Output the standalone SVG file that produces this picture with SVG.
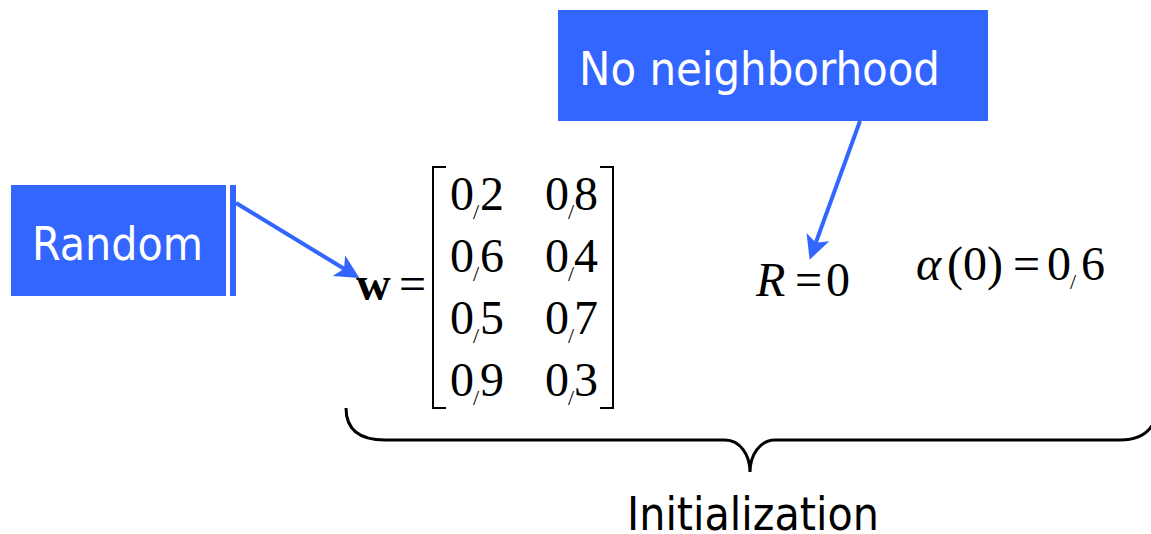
<svg xmlns="http://www.w3.org/2000/svg" width="1151" height="534" viewBox="0 0 1151 534">
<defs>
<style>
.box{fill:#3366ff}
.lbl{font-family:"DejaVu Sans",Verdana,sans-serif;font-size:47px;fill:#fff}
.m{font-family:"Liberation Serif","Times New Roman",serif;font-size:48px;fill:#000}
.sl{font-family:"Liberation Serif","Times New Roman",serif;font-size:22px;fill:#000}
.conn{stroke:#3366ff;stroke-width:4;fill:none}
.br{stroke:#000;stroke-width:2;fill:none}
</style>
<marker id="ah" markerWidth="6" markerHeight="6" refX="5" refY="3" orient="auto" markerUnits="strokeWidth">
<path d="M0,0 L6,3 L0,6 L1.5,3 Z" fill="#3366ff"/>
</marker>
</defs>
<rect width="1151" height="534" fill="#fff"/>
<g id="random">
<rect class="box" x="11" y="185" width="215" height="111"/>
<rect class="box" x="230" y="185" width="6" height="111"/>
<text class="lbl" x="32" y="260" textLength="171" lengthAdjust="spacingAndGlyphs">Random</text>
</g>
<g id="noneigh">
<rect class="box" x="558" y="10" width="430" height="111"/>
<text class="lbl" x="579" y="85" textLength="361" lengthAdjust="spacingAndGlyphs">No neighborhood</text>
</g>
<g id="matrix">
<text class="m" x="356" y="300" font-weight="bold">w</text>
<text class="m" x="399" y="300">=</text>
<path class="br" d="M446,167 H433 V408 H446"/>
<path class="br" d="M600,167 H613 V408 H600"/>
<text class="m" x="450" y="210">0</text><text class="sl" x="473" y="219">/</text><text class="m" x="480" y="210">2</text>
<text class="m" x="545" y="210">0</text><text class="sl" x="568" y="219">/</text><text class="m" x="574" y="210">8</text>
<text class="m" x="450" y="272">0</text><text class="sl" x="473" y="281">/</text><text class="m" x="480" y="272">6</text>
<text class="m" x="545" y="272">0</text><text class="sl" x="568" y="281">/</text><text class="m" x="574" y="272">4</text>
<text class="m" x="450" y="334">0</text><text class="sl" x="473" y="343">/</text><text class="m" x="480" y="334">5</text>
<text class="m" x="545" y="334">0</text><text class="sl" x="568" y="343">/</text><text class="m" x="574" y="334">7</text>
<text class="m" x="450" y="396">0</text><text class="sl" x="473" y="405">/</text><text class="m" x="480" y="396">9</text>
<text class="m" x="545" y="396">0</text><text class="sl" x="568" y="405">/</text><text class="m" x="574" y="396">3</text>
</g>
<g id="rzero">
<text class="m" x="756" y="296" font-style="italic">R</text>
<text class="m" x="795" y="296">=</text>
<text class="m" x="826" y="296">0</text>
</g>
<g id="alpha">
<text class="m" x="916" y="280" font-style="italic">α</text>
<text class="m" x="947" y="280">(0)</text>
<text class="m" x="1013" y="280">=</text>
<text class="m" x="1047" y="280">0</text>
<text class="sl" x="1070" y="289">/</text>
<text class="m" x="1081" y="280">6</text>
</g>
<g id="brace">
<path d="M346,408 C346,430 360,440 385,440 H725 C740,440 750,455 750,472 C750,455 760,440 775,440 H1120 C1140,440 1150,432 1155,420" stroke="#000" stroke-width="3" fill="none"/>
<text x="627" y="530" font-family="DejaVu Sans,Verdana,sans-serif" font-size="47" textLength="252" lengthAdjust="spacingAndGlyphs" fill="#000">Initialization</text>
</g>
<g id="connectors">
<line class="conn" x1="236" y1="203" x2="356" y2="276" marker-end="url(#ah)"/>
<line class="conn" x1="860" y1="121" x2="811" y2="256" marker-end="url(#ah)"/>
</g>
</svg>
